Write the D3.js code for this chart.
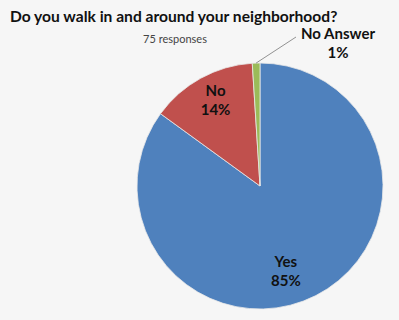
<!DOCTYPE html>
<html lang="en">
<head>
<meta charset="UTF-8">
<title>Walk survey</title>
<script src="https://cdn.jsdelivr.net/npm/d3@7"></script>
<style>
  body { margin: 0; background: #f6f6f6; }
  svg { display: block; font-family: Lato, "Open Sans", sans-serif; }
  .title { font-size: 15.6px; font-weight: bold; fill: #111; }
  .sub { font-size: 11px; fill: #444; }
  .lbl { font-size: 15px; font-weight: bold; fill: #111; }
</style>
</head>
<body>
<svg id="chart" width="399" height="320"></svg>
<script>
var categories = ['Yes', 'No', 'No Answer']
var values = [85, 14, 1]
var labels = ['85%', '14%', '1%']
var colors = ['#4f81bd', '#c0504d', '#9bbb59']

var width = 399, height = 320
var cx = 260, cy = 186, radius = 123

var svg = d3.select('#chart')
svg.append('rect').attr('width', width).attr('height', height).attr('fill', '#f6f6f6')

svg.append('text').attr('class', 'title').attr('x', 10).attr('y', 22)
  .text('Do you walk in and around your neighborhood?')
svg.append('text').attr('class', 'sub').attr('x', 175).attr('y', 43)
  .attr('text-anchor', 'middle').text('75 responses')

var pie = d3.pie().sort(null).value(function (d) { return d })
var arcs = pie(values)
var arc = d3.arc().innerRadius(0).outerRadius(radius)

var g = svg.append('g').attr('transform', 'translate(' + cx + ',' + cy + ')')
g.selectAll('path').data(arcs).enter().append('path')
  .attr('d', arc)
  .attr('fill', function (d, i) { return colors[i] })
  .attr('stroke', '#e8e8e8')
  .attr('stroke-width', 0.8)

// inside labels for the big slices, outside with a leader for the small one
var labelArc = d3.arc().innerRadius(radius * 0.75).outerRadius(radius * 0.75)
var nudge = [[-16, 8], [0, 0]]
arcs.forEach(function (d, i) {
  if (i === 2) {
    var mid = (d.startAngle + d.endAngle) / 2
    var p0 = [Math.sin(mid) * radius, -Math.cos(mid) * radius]
    g.append('line')
      .attr('x1', p0[0]).attr('y1', p0[1])
      .attr('x2', 296 - cx).attr('y2', 37 - cy)
      .attr('stroke', '#777').attr('stroke-width', 0.8)
    g.append('text').attr('class', 'lbl').attr('x', 338 - cx).attr('y', 39 - cy)
      .attr('text-anchor', 'middle').text(categories[i])
    g.append('text').attr('class', 'lbl').attr('x', 338 - cx).attr('y', 58 - cy)
      .attr('text-anchor', 'middle').text(labels[i])
  } else {
    var c = labelArc.centroid(d)
    var x = c[0] + nudge[i][0], y = c[1] + nudge[i][1]
    g.append('text').attr('class', 'lbl').attr('x', x).attr('y', y - 9)
      .attr('text-anchor', 'middle').text(categories[i])
    g.append('text').attr('class', 'lbl').attr('x', x).attr('y', y + 10)
      .attr('text-anchor', 'middle').text(labels[i])
  }
})
</script>
</body>
</html>
